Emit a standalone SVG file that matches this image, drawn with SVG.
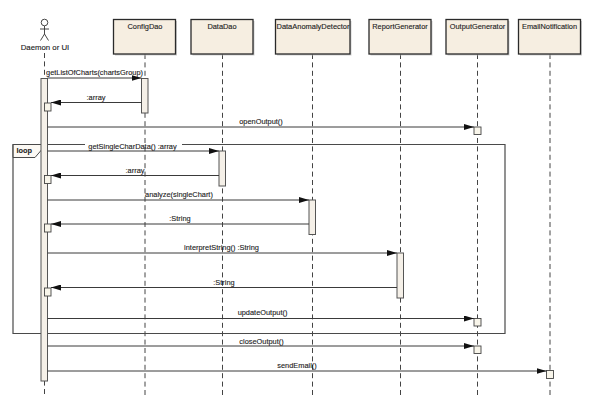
<svg xmlns="http://www.w3.org/2000/svg" width="598" height="408" viewBox="0 0 598 408">
<style>
text{font-family:"Liberation Sans",Arial,sans-serif;font-size:7.400px;fill:#222;stroke:#222;stroke-width:.12;text-anchor:middle}
.box{fill:#f6eee1;stroke:#2a2a2a;stroke-width:1.300}
.shadow{fill:#bbb;opacity:.7}
.life{stroke:#444;stroke-width:1;stroke-dasharray:5 3.400;fill:none}
.act{fill:#f5f0e8;stroke:#555;stroke-width:1}
.small{fill:#f8f5ea;stroke:#444;stroke-width:.9}
.msg{stroke:#3a3a3a;stroke-width:1;fill:none}
.head{fill:#111}
.frame{fill:none;stroke:#4a4a4a;stroke-width:1.200}
</style>
<defs>
<marker id="ah" viewBox="0 0 10 6" refX="10" refY="3" markerWidth="10" markerHeight="6" markerUnits="userSpaceOnUse" orient="auto"><path class="head" d="M0 0L10 3L0 6Z"/></marker>
</defs>
<rect width="598" height="408" fill="#fff"/>
<g id="lifelines">
<path class="life" d="M44.500 53V396"/>
<path class="life" d="M145 54V395"/>
<path class="life" d="M222.500 54V395"/>
<path class="life" d="M312.500 54V395"/>
<path class="life" d="M400.500 54V395"/>
<path class="life" d="M477.500 54V395"/>
<path class="life" d="M550 54V395"/>
</g>
<g id="loop-frame">
<path class="frame" d="M13 144.500H505V333.500H13Z"/>
<path fill="#f5ede0" fill-opacity=".35" stroke="#4a4a4a" d="M13 144.500H44V147L35 157.500H13Z"/>
<text x="16.500" y="153" style="text-anchor:start;font-weight:bold">loop</text>
</g>
<g id="daemon">
<circle cx="44.500" cy="22.500" r="3.300" fill="#fff" stroke="#333" stroke-width=".9"/>
<path d="M44.500 26V34M40 29H49M44.500 34L40.500 40.500M44.500 34L48.500 40.500" fill="none" stroke="#333" stroke-width=".9"/>
<text x="45" y="50" style="font-size:7.800px">Daemon or UI</text>
<rect class="act" x="41" y="78.500" width="6.500" height="302.500"/>
<rect class="small" x="44.500" y="103" width="6.500" height="8"/>
<rect class="small" x="44.500" y="175.500" width="6.500" height="8"/>
<rect class="small" x="44.500" y="224" width="6.500" height="8"/>
<rect class="small" x="44.500" y="288" width="6.500" height="8"/>
</g>
<g id="configdao">
<rect class="shadow" x="115" y="21" width="62" height="34.500"/>
<rect class="box" x="113.500" y="19.500" width="62" height="34.500"/>
<text x="145" y="29">ConfigDao</text>
<rect class="act" x="141.500" y="78.500" width="6.500" height="34.500"/>
</g>
<g id="datadao">
<rect class="shadow" x="192.500" y="21" width="62" height="34.500"/>
<rect class="box" x="191" y="19.500" width="62" height="34.500"/>
<text x="222" y="29">DataDao</text>
<rect class="act" x="219" y="151" width="6.500" height="35"/>
</g>
<g id="dataanomalydetector">
<rect class="shadow" x="277" y="21" width="74.500" height="34.500"/>
<rect class="box" x="275.500" y="19.500" width="74.500" height="34.500"/>
<text x="313" y="29" textLength="73" lengthAdjust="spacingAndGlyphs">DataAnomalyDetector</text>
<rect class="act" x="309" y="200" width="6.500" height="34.500"/>
</g>
<g id="reportgenerator">
<rect class="shadow" x="370.500" y="21" width="62" height="34.500"/>
<rect class="box" x="369" y="19.500" width="62" height="34.500"/>
<text x="400" y="29">ReportGenerator</text>
<rect class="act" x="397" y="253" width="6.500" height="45"/>
</g>
<g id="outputgenerator">
<rect class="shadow" x="447.500" y="21" width="62" height="34.500"/>
<rect class="box" x="446" y="19.500" width="62" height="34.500"/>
<text x="477.500" y="29">OutputGenerator</text>
<rect class="small" x="474" y="127" width="7" height="7.500"/>
<rect class="small" x="474" y="318.500" width="7" height="7.500"/>
<rect class="small" x="474" y="346" width="7" height="7.500"/>
</g>
<g id="emailnotification">
<rect class="shadow" x="520" y="21" width="62" height="34.500"/>
<rect class="box" x="518.500" y="19.500" width="62" height="34.500"/>
<text x="549.500" y="29">EmailNotification</text>
<rect class="small" x="546.500" y="370.500" width="7" height="8"/>
</g>
<g id="connectors">
<path class="msg" marker-end="url(#ah)" d="M47.500 78H141.500"/>
<path class="msg" marker-end="url(#ah)" d="M141.500 102.500H51"/>
<path class="msg" marker-end="url(#ah)" d="M47.500 127H474"/>
<path class="msg" marker-end="url(#ah)" d="M47.500 151H219"/>
<path class="msg" marker-end="url(#ah)" d="M219 175.500H51"/>
<path class="msg" marker-end="url(#ah)" d="M47.500 200H309"/>
<path class="msg" marker-end="url(#ah)" d="M309 224H51"/>
<path class="msg" marker-end="url(#ah)" d="M47.500 253H397"/>
<path class="msg" marker-end="url(#ah)" d="M397 287.500H51"/>
<path class="msg" marker-end="url(#ah)" d="M47.500 318.500H474"/>
<path class="msg" marker-end="url(#ah)" d="M47.500 346H474"/>
<path class="msg" marker-end="url(#ah)" d="M47.500 371H546.500"/>
</g>
<g id="labels">
<text x="94.500" y="75">getListOfCharts(chartsGroup)</text>
<text x="96" y="100">:array</text>
<text x="261" y="124">openOutput()</text>
<rect x="85" y="143" width="97" height="4" fill="#fff"/>
<text x="132.500" y="148.500">getSingleCharData() :array</text>
<text x="135" y="172.500">:array</text>
<text x="179" y="197">analyze(singleChart)</text>
<text x="180" y="221">:String</text>
<text x="221.500" y="250">interpretString() :String</text>
<text x="224" y="284.500">:String</text>
<text x="262.500" y="315">updateOutput()</text>
<text x="261.500" y="343.500">closeOutput()</text>
<text x="297" y="367.500">sendEmail()</text>
</g>
</svg>
